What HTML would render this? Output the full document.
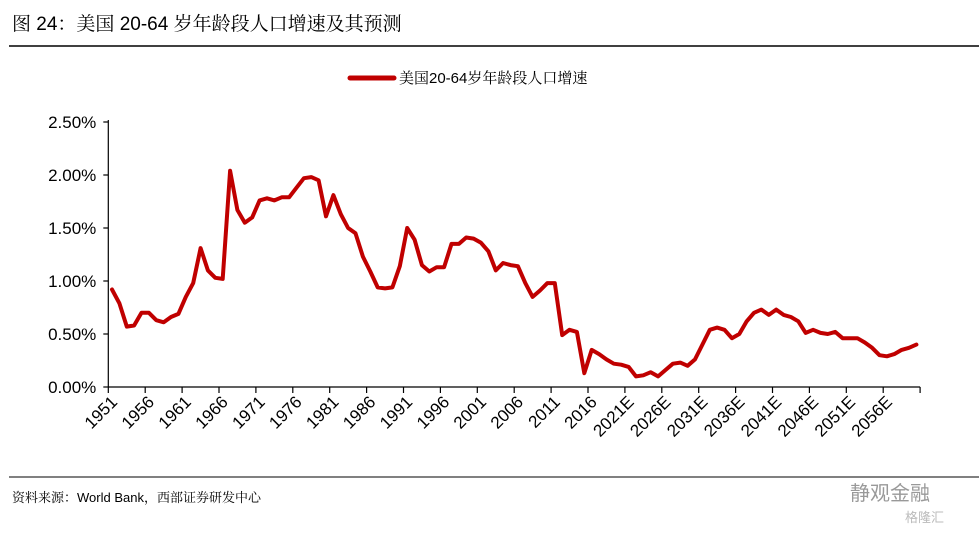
<!DOCTYPE html>
<html><head><meta charset="utf-8"><style>
body{margin:0;background:#fff;}
svg text{font-family:"Liberation Sans","Noto Sans CJK SC",sans-serif;}
svg text.cjk{font-family:"Liberation Sans","Noto Serif CJK SC",serif;}
</style></head><body>
<svg id="c" width="979" height="531" xmlns="http://www.w3.org/2000/svg">
<text class="cjk" x="12" y="30" font-size="19" fill="#000">图 24：美国 20-64 岁年龄段人口增速及其预测</text>
<line x1="9" y1="46" x2="979" y2="46" stroke="#000" stroke-width="1.5"/>
<g>
<line x1="350" y1="78" x2="394" y2="78" stroke="#c00000" stroke-width="5" stroke-linecap="round"/>
<text class="cjk" x="399" y="83" font-size="15" fill="#000">美国20-64岁年龄段人口增速</text>
</g>
<g id="axes"></g>
<line x1="9" y1="477" x2="979" y2="477" stroke="#000" stroke-width="1"/>
<text class="cjk" x="12" y="502" font-size="13" fill="#000">资料来源：World Bank，西部证券研发中心</text>
<text x="850" y="500" font-size="20" fill="#999">静观金融</text>
<text x="905" y="522" font-size="13" fill="#bbb">格隆汇</text>
</svg>
<script>
const startYear = 1951;
const values = [0.92,0.79,0.57,0.58,0.70,0.70,0.63,0.61,0.66,0.69,
0.85,0.98,1.31,1.10,1.03,1.02,2.04,1.67,1.55,1.60,
1.76,1.78,1.76,1.79,1.79,1.88,1.97,1.98,1.95,1.61,
1.81,1.63,1.50,1.45,1.23,1.09,0.94,0.93,0.94,1.14,
1.50,1.39,1.15,1.09,1.13,1.13,1.35,1.35,1.41,1.40,
1.36,1.28,1.10,1.17,1.15,1.14,0.98,0.85,0.91,0.98,
0.98,0.49,0.54,0.52,0.13,0.35,0.31,0.26,0.22,0.21,
0.19,0.10,0.11,0.14,0.10,0.16,0.22,0.23,0.20,0.26,
0.40,0.54,0.56,0.54,0.46,0.50,0.62,0.70,0.73,0.68,
0.73,0.68,0.66,0.62,0.51,0.54,0.51,0.50,0.52,0.46,
0.46,0.46,0.42,0.37,0.30,0.29,0.31,0.35,0.37,0.40];
const yTicks = [0,0.5,1.0,1.5,2.0,2.5];
const yTickLabels = ["0.00%","0.50%","1.00%","1.50%","2.00%","2.50%"];
const xTickLabels = ["1951","1956","1961","1966","1971","1976","1981","1986","1991","1996","2001","2006","2011","2016","2021E","2026E","2031E","2036E","2041E","2046E","2051E","2056E"];

const NS="http://www.w3.org/2000/svg";
const svg=document.getElementById('axes');
const X0=108.3, step=7.38, Y0=387, pxPer=106;
const xScale=i=>X0+(i+0.5)*step;
const yScale=v=>Y0-v*pxPer;
function mk(t,a){const e=document.createElementNS(NS,t);for(const k in a)e.setAttribute(k,a[k]);svg.appendChild(e);return e;}
const total=values.length;
const yax=mk('line',{x1:X0,y1:yScale(2.5)-2,x2:X0,y2:Y0,stroke:'#000','stroke-width':1.2});


yTicks.forEach((t,k)=>{
 const tl=mk('line',{x1:X0-5,y1:yScale(t),x2:X0,y2:yScale(t),stroke:'#000','stroke-width':1.2});
 
 
 const tx=mk('text',{x:X0-12,y:yScale(t)+6,'font-size':17,'text-anchor':'end',fill:'#000'});
 tx.textContent=yTickLabels[k];
 
 
});
const xax=mk('line',{x1:X0,y1:Y0,x2:X0+total*step,y2:Y0,stroke:'#000','stroke-width':1.2});


for(let k=0;k<=total/5;k++){
 const x=X0+k*5*step;
 const tl=mk('line',{x1:x,y1:Y0,x2:x,y2:Y0+6,stroke:'#000','stroke-width':1.2});
 
 
}
xTickLabels.forEach((l,k)=>{
 const x=X0+k*5*step+10, y=Y0+16;
 const tx=mk('text',{x:x,y:y,'font-size':17,'text-anchor':'end',fill:'#000',transform:`rotate(-45 ${x} ${y})`});
 tx.textContent=l;
 
 
});
const d=values.map((v,i)=>(i?'L':'M')+xScale(i).toFixed(1)+' '+yScale(v).toFixed(1)).join(' ');
const p=mk('path',{d:d,fill:'none',stroke:'#c00000','stroke-width':4,'stroke-linejoin':'round','stroke-linecap':'round'});


</script>
</body></html>
